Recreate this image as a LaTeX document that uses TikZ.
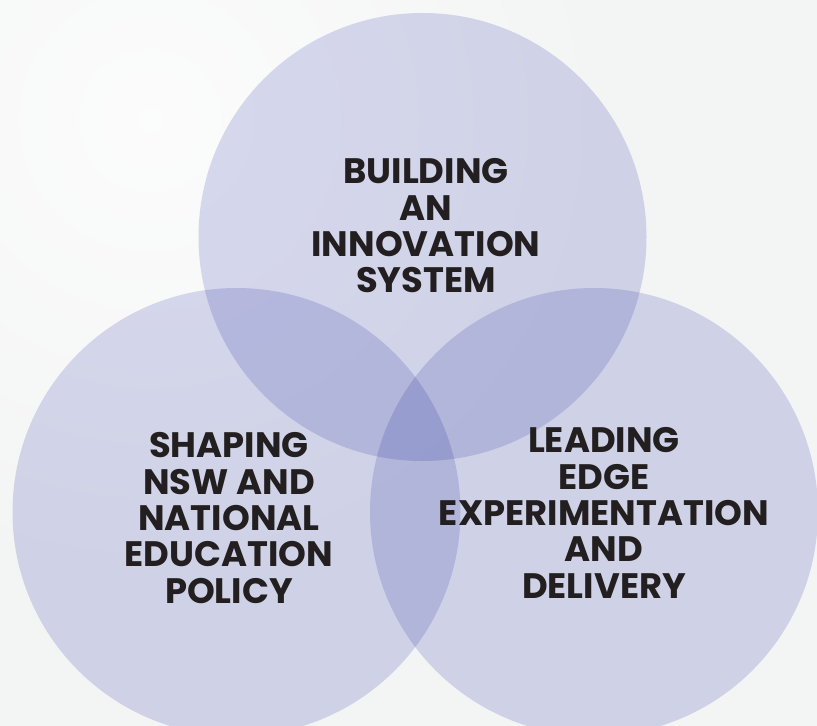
\documentclass[tikz,border=0pt]{standalone}
\usepackage{fontspec}
\setmainfont{Poppins}
\usepackage{xcolor}

\definecolor{bggray}{HTML}{F3F4F4}
\definecolor{lilac}{HTML}{DADCF1}
\definecolor{ink}{HTML}{231F20}

\begin{document}
\begin{tikzpicture}[
    x=1bp, y=-1bp,
    disc/.style={circle, fill=lilac, minimum size=448bp, inner sep=0pt},
    theme/.style={text=ink, align=center, font=\fontsize{35.5}{36.5}\selectfont\bfseries, inner sep=0pt}
]
\useasboundingbox (0,0) rectangle (817,726);

% Backdrop
\begin{scope}
\clip (0,0) rectangle (817,726);
\fill[bggray] (0,0) rectangle (817,726);
\shade[inner color=white!70!bggray, outer color=bggray] (150,120) circle (460);
\end{scope}

% Overlapping circles
\begin{scope}[blend mode=multiply]
\node[disc] (system) at (422.5,237) {};
\node[disc] (policy) at (236.5,512) {};
\node[disc] (delivery) at (594,512) {};
\end{scope}

% Titles
\node[theme] (building) at (426,226) {BUILDING\\AN\\INNOVATION\\SYSTEM};
\node[theme] (shaping) at (229,518) {SHAPING\\NSW AND\\NATIONAL\\EDUCATION\\POLICY};
\node[theme] (leading) at (604,513) {LEADING\\EDGE\\EXPERIMENTATION\\AND\\DELIVERY};

\end{tikzpicture}
\end{document}
